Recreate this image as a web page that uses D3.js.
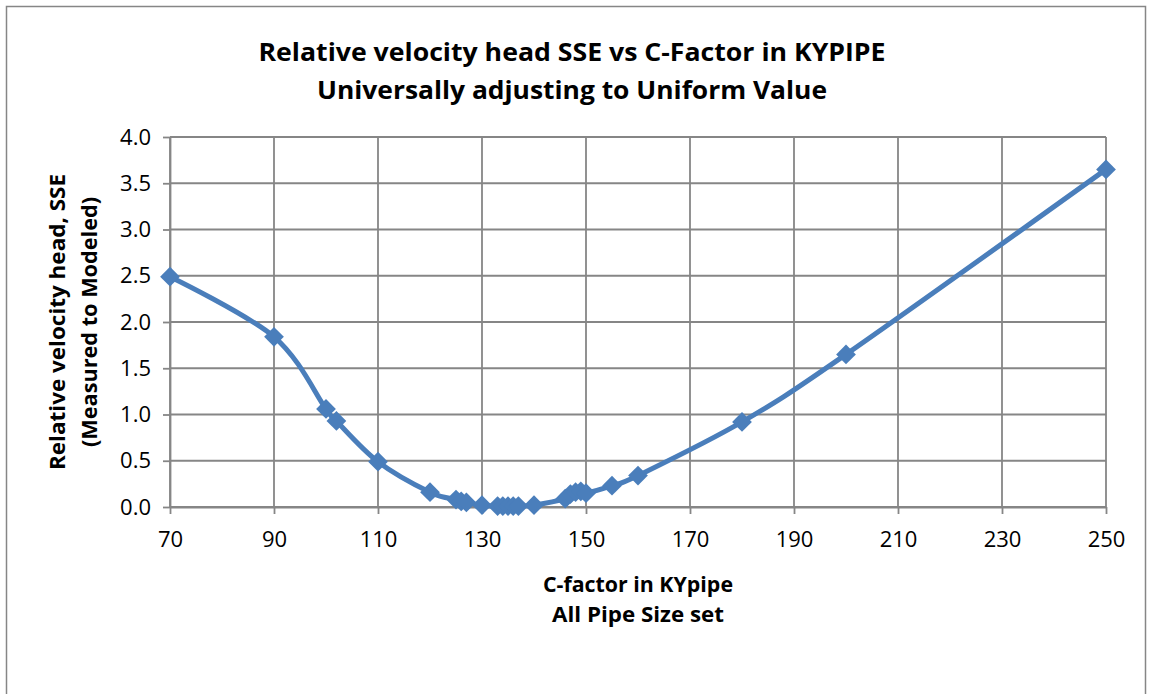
<!DOCTYPE html>
<html>
<head>
<meta charset="utf-8">
<script src="https://cdn.jsdelivr.net/npm/d3@7"></script>
<style>
  body { margin: 0; background: #fff; }
  text { font-family: "Open Sans", "Liberation Sans", sans-serif; fill: #000; }
</style>
</head>
<body>
<div id="main"></div>
<script>
// C-factor values and relative velocity head SSE
const cFactor = [70, 90, 100, 102, 110, 120, 125, 126, 127, 130, 133, 134, 135, 136, 137, 140, 146, 147, 148, 149, 150, 155, 160, 180, 200, 250];
const sse = [2.49, 1.84, 1.06, 0.93, 0.49, 0.16, 0.08, 0.06, 0.05, 0.02, 0.01, 0.01, 0.01, 0.01, 0.01, 0.02, 0.09, 0.14, 0.16, 0.17, 0.15, 0.23, 0.34, 0.92, 1.65, 3.65];
const xTicks = [70, 90, 110, 130, 150, 170, 190, 210, 230, 250];
const yTicks = [0, 0.5, 1.0, 1.5, 2.0, 2.5, 3.0, 3.5, 4.0];

const width = 1151;
const height = 694;
const plotLeft = 170, plotRight = 1106, plotTop = 137, plotBottom = 507;
const color = "#4A7EBB";
const gridColor = "#868686";

const data = cFactor.map((c, i) => [c, sse[i]]);

const x = d3.scaleLinear().domain([70, 250]).range([plotLeft, plotRight]);
const y = d3.scaleLinear().domain([0, 4]).range([plotBottom, plotTop]);

const svg = d3.select("#main").append("svg").attr("width", width).attr("height", height);

// chart frame
svg.append("rect")
  .attr("x", 6.5).attr("y", 6.5)
  .attr("width", 1139).attr("height", 700)
  .attr("fill", "#fff").attr("stroke", gridColor).attr("stroke-width", 1.5);

// gridlines
svg.append("g")
  .selectAll("line")
  .data(yTicks)
  .enter()
  .append("line")
  .attr("x1", plotLeft).attr("x2", plotRight)
  .attr("y1", (d) => y(d)).attr("y2", (d) => y(d))
  .attr("stroke", gridColor).attr("stroke-width", 1.8);

svg.append("g")
  .selectAll("line")
  .data(xTicks)
  .enter()
  .append("line")
  .attr("x1", (d) => x(d)).attr("x2", (d) => x(d))
  .attr("y1", plotTop).attr("y2", plotBottom)
  .attr("stroke", gridColor).attr("stroke-width", 1.8);

// axes
const xAxis = svg.append("g")
  .attr("transform", `translate(0, ${plotBottom})`)
  .call(d3.axisBottom(x).tickValues(xTicks).tickSize(7).tickSizeOuter(0).tickPadding(17).tickFormat(d3.format("d")));
const yAxis = svg.append("g")
  .attr("transform", `translate(${plotLeft}, 0)`)
  .call(d3.axisLeft(y).tickValues(yTicks).tickSize(7).tickSizeOuter(0).tickPadding(12).tickFormat(d3.format(".1f")));

[xAxis, yAxis].forEach((g) => {
  g.attr("font-size", 22);
  g.select(".domain").attr("stroke", gridColor).attr("stroke-width", 1.8);
  g.selectAll(".tick line").attr("stroke", gridColor).attr("stroke-width", 1.8);
  g.selectAll(".tick text").attr("fill", "#000")
    .style("font-family", "'Open Sans', 'Liberation Sans', sans-serif")
    .style("font-size", "22px");
});

// series line (smoothed like the spreadsheet)
svg.append("path")
  .datum(data)
  .attr("fill", "none")
  .attr("stroke", color)
  .attr("stroke-width", 5)
  .attr("stroke-linejoin", "round")
  .attr("d", d3.line().x((d) => x(d[0])).y((d) => y(d[1])).curve(d3.curveCardinal.tension(0)));

// diamond markers
svg.append("g")
  .selectAll("path")
  .data(data)
  .enter()
  .append("path")
  .attr("d", d3.symbol(d3.symbolSquare, 195))
  .attr("transform", (d) => `translate(${x(d[0])}, ${y(d[1])}) rotate(45)`)
  .attr("fill", color);

// titles
const title = svg.append("g").attr("font-weight", "bold").attr("text-anchor", "middle");
title.append("text").attr("x", 572).attr("y", 61).attr("font-size", 25)
  .attr("textLength", 627).attr("lengthAdjust", "spacingAndGlyphs")
  .text("Relative velocity head SSE vs C-Factor in KYPIPE");
title.append("text").attr("x", 572).attr("y", 99).attr("font-size", 25)
  .attr("textLength", 510).attr("lengthAdjust", "spacingAndGlyphs")
  .text("Universally adjusting to Uniform Value");

const xTitle = svg.append("g").attr("font-weight", "bold").attr("text-anchor", "middle");
xTitle.append("text").attr("x", 638).attr("y", 592).attr("font-size", 21)
  .attr("textLength", 190).attr("lengthAdjust", "spacingAndGlyphs")
  .text("C-factor in KYpipe");
xTitle.append("text").attr("x", 638).attr("y", 622).attr("font-size", 21)
  .attr("textLength", 172).attr("lengthAdjust", "spacingAndGlyphs")
  .text("All Pipe Size set");

const yTitle = svg.append("g").attr("font-weight", "bold").attr("text-anchor", "middle")
  .attr("transform", "translate(0, 322) rotate(-90)");
yTitle.append("text").attr("x", 0).attr("y", 65).attr("font-size", 21)
  .attr("textLength", 296).attr("lengthAdjust", "spacingAndGlyphs")
  .text("Relative velocity head, SSE");
yTitle.append("text").attr("x", 0).attr("y", 97).attr("font-size", 21)
  .attr("textLength", 250).attr("lengthAdjust", "spacingAndGlyphs")
  .text("(Measured to Modeled)");
</script>
</body>
</html>
